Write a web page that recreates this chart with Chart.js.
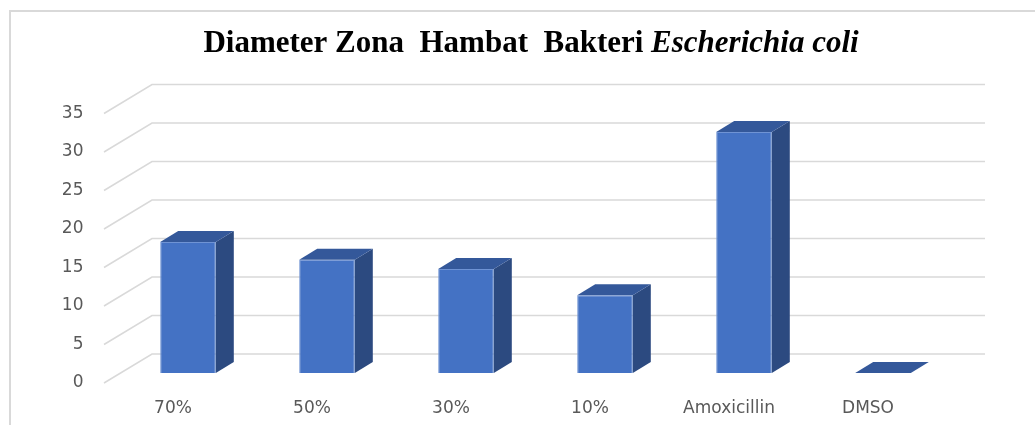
<!DOCTYPE html>
<html>
<head>
<meta charset="utf-8">
<script src="https://cdn.jsdelivr.net/npm/chart.js@4"></script>
<style>
  html, body { margin: 0; padding: 0; background: #fff; }
  #wrap { width: 1035px; height: 425px; position: relative; }
</style>
</head>
<body>
<div id="wrap"><canvas id="zonaChart"></canvas></div>
<script>
// data
const categories = ['70%', '50%', '30%', '10%', 'Amoxicillin', 'DMSO'];
const diameters = [17.0, 14.7, 13.5, 10.1, 31.3, 0];
const yTicks = [0, 5, 10, 15, 20, 25, 30, 35];

const titlePlain = 'Diameter Zona  Hambat  Bakteri ';
const titleItalic = 'Escherichia coli';

// 3D look
const DEPTH_X = 18, DEPTH_Y = -11;
const gridColor = '#d9d9d9';

// back wall + diagonal grid lines, chart border, title
const wallPlugin = {
    id: 'wall',
    beforeDatasetsDraw(chart) {
        const ctx = chart.ctx;
        const y = chart.scales.y;
        ctx.save();
        ctx.strokeStyle = gridColor;
        ctx.lineWidth = 1.5;
        yTicks.forEach(v => {
            const py = y.getPixelForValue(v);
            ctx.beginPath();
            ctx.moveTo(104, py + 10);
            ctx.lineTo(152, py - 19);
            ctx.lineTo(985, py - 19);
            ctx.stroke();
        });
        // outer border
        ctx.strokeStyle = '#d9d9d9';
        ctx.lineWidth = 2;
        ctx.strokeRect(10, 11, 1100, 500);

        // title with italic species name
        ctx.fillStyle = '#000';
        ctx.textBaseline = 'alphabetic';
        const fPlain = 'bold 31px "Liberation Serif", "Times New Roman", serif';
        const fItal = 'italic bold 31px "Liberation Serif", "Times New Roman", serif';
        ctx.font = fPlain;
        const w1 = ctx.measureText(titlePlain).width;
        ctx.font = fItal;
        const w2 = ctx.measureText(titleItalic).width;
        const x0 = 531 - (w1 + w2) / 2;
        ctx.font = fPlain;
        ctx.fillText(titlePlain, x0, 52);
        ctx.font = fItal;
        ctx.fillText(titleItalic, x0 + w1, 52);
        ctx.restore();
    },
    afterDatasetsDraw(chart) {
        const ctx = chart.ctx;
        const meta = chart.getDatasetMeta(0);
        ctx.save();
        meta.data.forEach(bar => {
            const l = bar.x - bar.width / 2;
            const r = bar.x + bar.width / 2;
            const top = bar.y, base = bar.base;
            // right side
            ctx.fillStyle = '#2c4a80';
            ctx.beginPath();
            ctx.moveTo(r, top);
            ctx.lineTo(r + DEPTH_X, top + DEPTH_Y);
            ctx.lineTo(r + DEPTH_X, base + DEPTH_Y);
            ctx.lineTo(r, base);
            ctx.closePath();
            ctx.fill();
            // top
            ctx.fillStyle = '#34589a';
            ctx.beginPath();
            ctx.moveTo(l, top);
            ctx.lineTo(l + DEPTH_X, top + DEPTH_Y);
            ctx.lineTo(r + DEPTH_X, top + DEPTH_Y);
            ctx.lineTo(r, top);
            ctx.closePath();
            ctx.fill();
        });
        ctx.restore();
    }
};

new Chart(document.getElementById('zonaChart'), {
    type: 'bar',
    data: {
        labels: categories,
        datasets: [{
            data: diameters,
            backgroundColor: '#4472c4',
            borderColor: '#6f93d4',
            borderWidth: 1,
            barPercentage: 0.4,
            categoryPercentage: 1.0
        }]
    },
    options: {
        responsive: true,
        maintainAspectRatio: false,
        animation: false,
        layout: { padding: { top: 103.5, right: 82.5, left: 0, bottom: 0 } },
        plugins: {
            legend: { display: false },
            title: { display: false },
            tooltip: { enabled: false }
        },
        scales: {
            x: {
                grid: { display: false, drawTicks: false },
                border: { display: false },
                ticks: {
                    color: '#595959',
                    font: { family: '"DejaVu Sans", sans-serif', size: 17 },
                    padding: 25,
                    labelOffset: -15,
                    maxRotation: 0
                },
                afterFit(scale) { scale.height = 52; }
            },
            y: {
                min: 0,
                max: 35,
                grid: { display: false, drawTicks: false },
                border: { display: false },
                afterBuildTicks(scale) {
                    scale.ticks = yTicks.map(v => ({ value: v }));
                },
                ticks: {
                    color: '#595959',
                    font: { family: '"DejaVu Sans", sans-serif', size: 17 },
                    padding: 35,
                    labelOffset: 10
                },
                afterFit(scale) { scale.width = 118.5; }
            }
        }
    },
    plugins: [wallPlugin]
});
</script>
</body>
</html>
